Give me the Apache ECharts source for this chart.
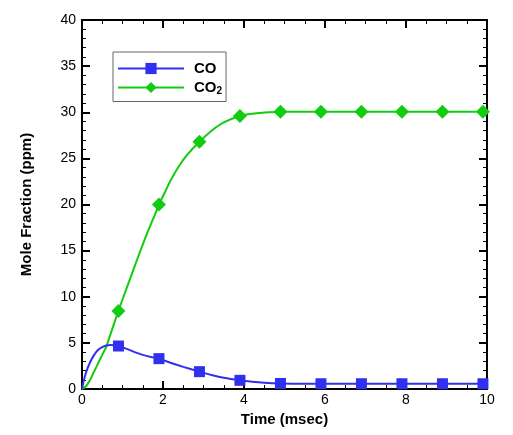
<!DOCTYPE html>
<html><head><meta charset="utf-8">
<script src="https://cdn.jsdelivr.net/npm/echarts@6/dist/echarts.min.js"></script>
<style>html,body{margin:0;padding:0;background:#fff}#c{width:513px;height:435px}</style>
</head><body><div id="c"></div>
<script>
// Curve samples (time in msec)
const coTime  = [0,0.05,0.1,0.2,0.3,0.4,0.5,0.6,0.7,0.8,0.9,1.1,1.3,1.5,1.7,1.9,2.2,2.5,2.9,3.2,3.5,3.9,4.2,4.5,4.9,5.5,6,7,8,9,10];
const coVals  = [0,1.0,1.8,2.9,3.7,4.25,4.55,4.72,4.78,4.75,4.66,4.35,4.0,3.7,3.47,3.29,2.82,2.4,1.88,1.52,1.22,0.94,0.78,0.67,0.6,0.57,0.57,0.57,0.57,0.57,0.57];
const co2Time = [0,0.1,0.2,0.3,0.4,0.5,0.6,0.7,0.8,0.9,1.0,1.2,1.4,1.6,1.8,1.9,2.0,2.2,2.4,2.6,2.9,3.2,3.5,3.9,4.2,4.6,5,6,7,8,9,10];
const co2Vals = [0,0.3,1.0,1.9,2.8,3.7,4.6,5.9,7.2,8.46,9.7,12.1,14.5,16.8,18.9,20.0,20.9,22.7,24.2,25.4,26.8,28.0,28.9,29.6,29.85,30.0,30.05,30.05,30.05,30.05,30.05,30.05];
// Marker points
const markTime = [0.9,1.9,2.9,3.9,4.9,5.9,6.9,7.9,8.9,9.9];
const coMarks  = [4.66,3.29,1.88,0.94,0.6,0.57,0.57,0.57,0.57,0.57];
const co2Marks = [8.46,20.0,26.8,29.6,30.05,30.05,30.05,30.05,30.05,30.05];

const BLUE = '#3030ee', GREEN = '#11cc11';
const zip = (a,b) => a.map((v,i)=>[v,b[i]]);
const font = 'Liberation Sans, Arial, Helvetica, sans-serif';

const tickCommon = {
  axisLine:{show:true, onZero:false, lineStyle:{color:'#000', width:2}},
  axisTick:{show:true, inside:true, length:8, lineStyle:{color:'#000', width:2}},
  splitLine:{show:false}
};

const chart = echarts.init(document.getElementById('c'), null, {renderer:'canvas'});
chart.setOption({
  animation:false,
  backgroundColor:'#fff',
  grid:{left:82, right:26, top:20, bottom:46, containLabel:false},
  legend:{
    orient:'vertical', left:113, top:52,
    borderColor:'#666', borderWidth:1, backgroundColor:'#fff',
    padding:[9,4,5,4], itemWidth:66, itemHeight:14, itemGap:4,
    data:['CO','CO2'],
    formatter: n => n==='CO2' ? '{b|CO}{s|2}' : '{b|CO}',
    textStyle:{fontFamily:font, fontSize:15, fontWeight:'bold', color:'#000',
      rich:{b:{fontFamily:font, fontSize:15, fontWeight:'bold', color:'#000', padding:[0,0,0,5]},
            s:{fontFamily:font, fontSize:10, fontWeight:'bold', color:'#000', verticalAlign:'bottom', padding:[8,0,0,0]}}}
  },
  xAxis:[
    Object.assign({type:'value', min:0, max:10, interval:2,
      name:'Time (msec)', nameLocation:'middle', nameGap:22,
      nameTextStyle:{fontFamily:font, fontSize:15, fontWeight:'bold', color:'#000'},
      axisLabel:{fontFamily:font, fontSize:14, color:'#000', margin:4}}, tickCommon,
      {minorTick:{show:true, splitNumber:4, length:4, lineStyle:{color:'#000',width:1}}}),
    Object.assign({type:'value', position:'top', min:0, max:10, interval:2, axisLabel:{show:false}}, tickCommon,
      {minorTick:{show:true, splitNumber:4, length:4, lineStyle:{color:'#000',width:1}}})
  ],
  yAxis:[
    Object.assign({type:'value', min:0, max:40, interval:5,
      name:'Mole Fraction (ppm)', nameLocation:'middle', nameGap:48, nameRotate:90,
      nameTextStyle:{fontFamily:font, fontSize:15, fontWeight:'bold', color:'#000'},
      axisLabel:{fontFamily:font, fontSize:14, color:'#000', margin:6}}, tickCommon,
      {minorTick:{show:true, splitNumber:5, length:4, lineStyle:{color:'#000',width:1}}}),
    Object.assign({type:'value', position:'right', min:0, max:40, interval:5, axisLabel:{show:false}}, tickCommon,
      {minorTick:{show:true, splitNumber:5, length:4, lineStyle:{color:'#000',width:1}}})
  ],
  series:[
    {name:'CO', type:'line', data:zip(coTime,coVals), smooth:0.3, showSymbol:false,
      symbol:'rect', symbolSize:11, color:BLUE, itemStyle:{color:BLUE, opacity:1}, lineStyle:{color:BLUE, width:2}, z:3},
    {name:'CO2', type:'line', data:zip(co2Time,co2Vals), smooth:0.3, showSymbol:false,
      symbol:'diamond', symbolSize:14, color:GREEN, itemStyle:{color:GREEN, opacity:1}, lineStyle:{color:GREEN, width:2}, z:2},
    {name:'COm', type:'scatter', data:zip(markTime,coMarks), symbol:'rect', symbolSize:11,
      itemStyle:{color:BLUE, opacity:1}, z:5},
    {name:'CO2m', type:'scatter', data:zip(markTime,co2Marks), symbol:'diamond', symbolSize:14,
      itemStyle:{color:GREEN, opacity:1}, z:4}
  ]
});
</script></body></html>
